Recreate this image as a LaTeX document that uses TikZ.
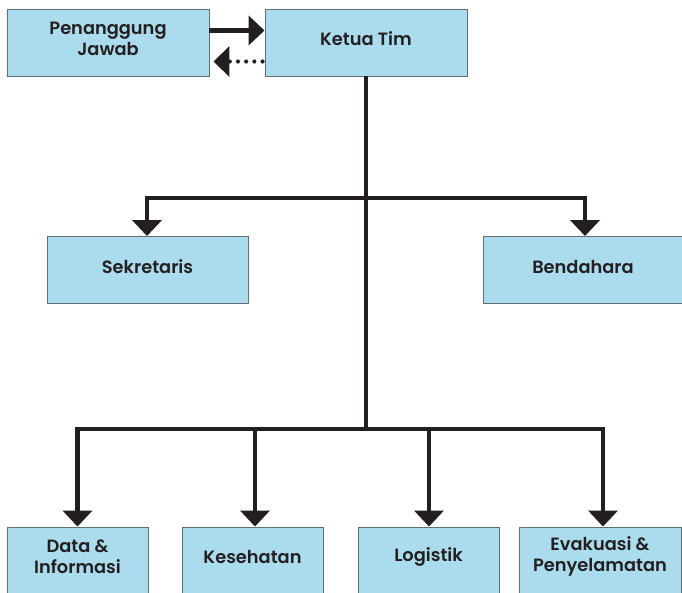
\documentclass[tikz,border=0pt]{standalone}
\usepackage{fontspec}
\setmainfont{Poppins}[UprightFont={* SemiBold},BoldFont={* SemiBold}]
\usetikzlibrary{arrows.meta}
\definecolor{boxfill}{HTML}{ABDCEE}
\definecolor{boxline}{HTML}{5F7076}
\definecolor{ink}{HTML}{231F20}
\begin{document}
\begin{tikzpicture}[x=1pt,y=-1pt,
  box/.style={draw=boxline,line width=0.9pt,fill=boxfill,inner sep=0pt},
  txt/.style={text=ink,align=center,font=\fontsize{17.8}{21.5}\selectfont,inner sep=0pt,yshift=3.5pt},
  conn/.style={draw=ink,line width=4.6pt},
  arr/.style={conn,-{Triangle[width=29pt,length=16pt]}},
  dotarr/.style={draw=ink,line width=4.2pt,line cap=round,dash pattern=on 0pt off 8.2pt,
    -{Triangle[width=30pt,length=16pt,line cap=butt]}}]
\useasboundingbox (0,0) rectangle (682,592);
\begin{scope}
\clip (0,0) rectangle (682,592);
\node[box,minimum width=202pt,minimum height=67pt,label={[txt]center:Penanggung\\Jawab}] (pj) at (108,42.5) {};
\node[box,minimum width=202pt,minimum height=67pt,label={[txt]center:Ketua Tim}] (kt) at (366,42.5) {};
\node[box,minimum width=201pt,minimum height=67pt,label={[txt]center:Sekretaris}] (sek) at (147.5,270) {};
\node[box,minimum width=200pt,minimum height=67pt,label={[txt]center:Bendahara}] (ben) at (583,270) {};
\node[box,minimum width=141pt,minimum height=66pt,label={[txt]center:Data \&\\Informasi}] (data) at (77.5,560) {};
\node[box,minimum width=141pt,minimum height=66pt,label={[txt]center:Kesehatan}] (kes) at (252.5,560) {};
\node[box,minimum width=141pt,minimum height=66pt,label={[txt]center:Logistik}] (log) at (428.5,560) {};
\node[box,minimum width=162pt,minimum height=66pt,label={[txt]center:Evakuasi \&\\Penyelamatan}] (eva) at (600,560) {};
\end{scope}
\coordinate (j1) at (366,198);
\coordinate (j2) at (366,429);
\draw[arr] (pj.east |- 0,30.5) -- (kt.west |- 0,30.5);
\draw[dotarr] ([xshift=-2pt]kt.west |- 0,61.5) -- ([xshift=4pt]pj.east |- 0,61.5);
\draw[conn] (kt.south) -- (j2);
\draw[arr] ([xshift=2.3pt]j1) -| ([xshift=-0.5pt]sek.north);
\draw[arr] ([xshift=-2.3pt]j1) -| ([xshift=2pt]ben.north);
\draw[arr] ([xshift=2.3pt]j2) -| (data.north -| 77.5,0);
\draw[arr] (j2) -| (kes.north -| 255,0);
\draw[arr] (j2) -| (log.north -| 429,0);
\draw[arr] ([xshift=-2.3pt]j2) -| (eva.north -| 603,0);
\end{tikzpicture}
\end{document}
